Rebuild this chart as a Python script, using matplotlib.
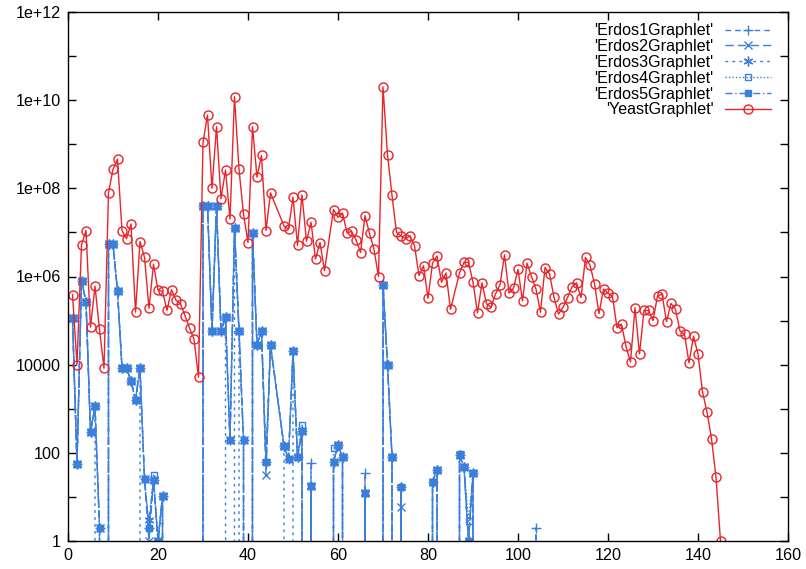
import matplotlib
matplotlib.use('Agg')
import matplotlib.pyplot as plt
from matplotlib.ticker import FixedLocator, FixedFormatter, NullFormatter

# ---------------- data ----------------
missing_x = (46, 47, 58, 86)
graphlet_x = [i for i in range(1, 146) if i not in missing_x]

yeast = [3.9e5, 1.0e4, 5.2e6, 1.1e7, 7.1e4, 6.0e5, 6.3e4, 8.3e3, 7.9e7, 2.7e8,          # 1-10
         4.6e8, 1.1e7, 7.2e6, 1.55e7, 1.55e5, 6.2e6, 2.75e6, 1.9e5, 1.9e6, 4.9e5,       # 11-20
         4.6e5, 1.7e5, 5.0e5, 2.9e5, 2.4e5, 1.3e5, 6.8e4, 3.8e4, 5.2e3, 1.1e9,          # 21-30
         4.6e9, 1.0e8, 2.5e9, 5.8e7, 2.6e8, 2.0e7, 1.2e10, 2.7e8, 2.6e7, 5.9e6,         # 31-40
         2.5e9, 1.8e8, 5.6e8, 1.1e7, 7.9e7,                                             # 41-45
         1.4e7, 1.2e7, 6.3e7, 5.1e6, 7.1e7, 6.3e6, 1.7e7, 2.5e6, 5.9e6, 1.35e6,         # 48-57
         3.3e7, 2.2e7, 2.75e7, 9.8e6, 1.05e7, 6.8e6, 3.5e6, 2.4e7, 9.5e6, 4.1e6, 1.0e6, # 59-69
         2.0e10, 5.8e8, 6.9e7, 1.0e7, 8.3e6, 7.2e6, 8.3e6, 5.0e6, 1.05e6, 1.75e6, 3.2e5,  # 70-80
         2.0e6, 2.9e6, 7.4e5, 1.2e6, 1.8e5,                                             # 81-85
         1.2e6, 2.1e6, 2.1e6, 7.4e5, 1.5e5, 7.2e5, 2.4e5, 2.0e5, 4.0e5, 6.5e5,          # 87-96
         3.1e6, 4.2e5, 5.4e5, 1.45e6,                                                   # 97-100
         2.8e5, 2.0e6, 1.0e6, 5.2e5, 1.55e5, 1.6e6, 1.15e6, 3.4e5, 1.4e5, 2.0e5,        # 101-110
         3.3e5, 5.8e5, 7.2e5, 3.3e5, 2.7e6, 1.8e6, 6.9e5, 1.45e5, 5.2e5, 4.2e5,         # 111-120
         3.5e5, 6.9e4, 8.3e4, 2.6e4, 1.15e4, 1.95e5, 1.75e4, 1.7e5, 1.7e5, 1.0e5,       # 121-130
         3.6e5, 4.0e5, 9.5e4, 2.45e5, 1.8e5, 5.8e4, 4.9e4, 1.1e4, 4.4e4, 1.75e4,        # 131-140
         2.4e3, 850, 210, 28, 1]                                                        # 141-145

# Erdos5 (filled squares), x = 1..90 without the missing x values
erdos5_head = [1.15e5, 56, 8.0e5, 2.7e5, 300, 1150, 2, 0, 5.4e6, 5.4e6,     # 1-10
               4.7e5, 8500, 8500, 4200, 1600, 8500, 25, 2, 24, 1,           # 11-20
               10.5, 0, 0, 0, 0, 0, 0, 0, 0, 4.0e7,                         # 21-30
               4.0e7, 5.8e4, 4.0e7, 5.8e4, 1.2e5, 195, 1.25e7, 5.8e4, 195, 0,  # 31-40
               9.5e6, 2.8e4, 5.8e4, 63, 2.8e4,                              # 41-45
               140, 74, 2.0e4, 81, 320, 0, 18, 0, 0, 0,                     # 48-57
               63, 150, 81, 0, 0, 0, 0, 12, 0, 0, 0,                        # 59-69
               6.5e5, 1.0e4, 81, 0, 17, 0, 0, 0, 0, 0, 0,                   # 70-80
               22, 41, 0, 0, 0,                                             # 81-85
               89, 47, 1, 34]                                               # 87-90
erdos_tail = [0] * 15                                                       # 91-105

# points where the other Erdos series differ from Erdos5
erdos1_diff = {54: 59, 66: 35, 104: 2}
erdos2_diff = {18: 1, 44: 31, 74: 6}
erdos3_diff = {7: 0, 17: 0, 18: 3, 36: 0, 39: 0, 49: 0}
erdos4_diff = {19: 31, 52: 425, 59: 126, 87: 95, 89: 2.8}

labels = ["'Erdos1Graphlet'", "'Erdos2Graphlet'", "'Erdos3Graphlet'",
          "'Erdos4Graphlet'", "'Erdos5Graphlet'", "'YeastGraphlet'"]

# ---------------- build series ----------------
erdos_base = erdos5_head + erdos_tail
erdos_x = graphlet_x[:len(erdos_base)]


def series(diff):
    vals = list(erdos_base)
    for xv, v in diff.items():
        vals[erdos_x.index(xv)] = v
    return vals


erdos_series = [series(erdos1_diff), series(erdos2_diff), series(erdos3_diff),
                series(erdos4_diff), series({})]

# ---------------- plotting ----------------
plt.rcParams['font.family'] = ['Liberation Sans', 'DejaVu Sans']
fs = 11.6
fig = plt.figure(figsize=(8.06, 5.69), dpi=100)
ax = fig.add_axes([68 / 806, 28 / 569, 720 / 806, 529 / 569])
ax.set_yscale('log', nonpositive='clip')

blue = '#3b7fdc'
red = '#e8252a'
styles = [
    dict(ls=(0, (4, 3)), marker='+', ms=7, mew=1.0, mfc=blue),
    dict(ls=(0, (6, 3)), marker='x', ms=5.5, mew=1.0, mfc=blue),
    dict(ls=(0, (2, 3)), marker=(6, 2, 0), ms=7, mew=1.0, mfc=blue),
    dict(ls=(0, (1, 1.5)), marker='s', ms=5, mew=1.0, mfc='none'),
    dict(ls=(0, (5, 2, 1, 2)), marker='s', ms=5, mew=1.0, mfc=blue),
]
for vals, st, lab in zip(erdos_series, styles, labels[:5]):
    ax.plot(erdos_x, vals, color=blue, lw=1.0, mec=blue, label=lab, **st)

ax.plot(graphlet_x, yeast, color=red, lw=1.0, marker='o', ms=6.5, mfc='none',
        mec=red, mew=1.0, label=labels[5])

ax.set_xlim(0, 160)
ax.set_ylim(1, 1e12)
ax.set_xticks([0, 20, 40, 60, 80, 100, 120, 140, 160])
ax.xaxis.set_minor_locator(FixedLocator([]))
major_y = [1, 1e2, 1e4, 1e6, 1e8, 1e10, 1e12]
ax.yaxis.set_major_locator(FixedLocator(major_y))
ax.yaxis.set_major_formatter(FixedFormatter(['1', '100', '10000', '1e+06', '1e+08', '1e+10', '1e+12']))
ax.yaxis.set_minor_locator(FixedLocator([10, 1e3, 1e5, 1e7, 1e9, 1e11]))
ax.yaxis.set_minor_formatter(NullFormatter())
ax.tick_params(which='both', direction='in', top=True, right=True, length=6, width=1,
               labelsize=fs, pad=5)
for sp in ax.spines.values():
    sp.set_linewidth(1.0)

leg = ax.legend(loc='upper right', bbox_to_anchor=(1.0 - 6 / 720, 1.0), frameon=False,
                markerfirst=False, fontsize=fs, handlelength=2.85,
                handletextpad=0.7, labelspacing=0.05, borderaxespad=0.0,
                borderpad=0.7)

fig.savefig('out.png', dpi=100)
